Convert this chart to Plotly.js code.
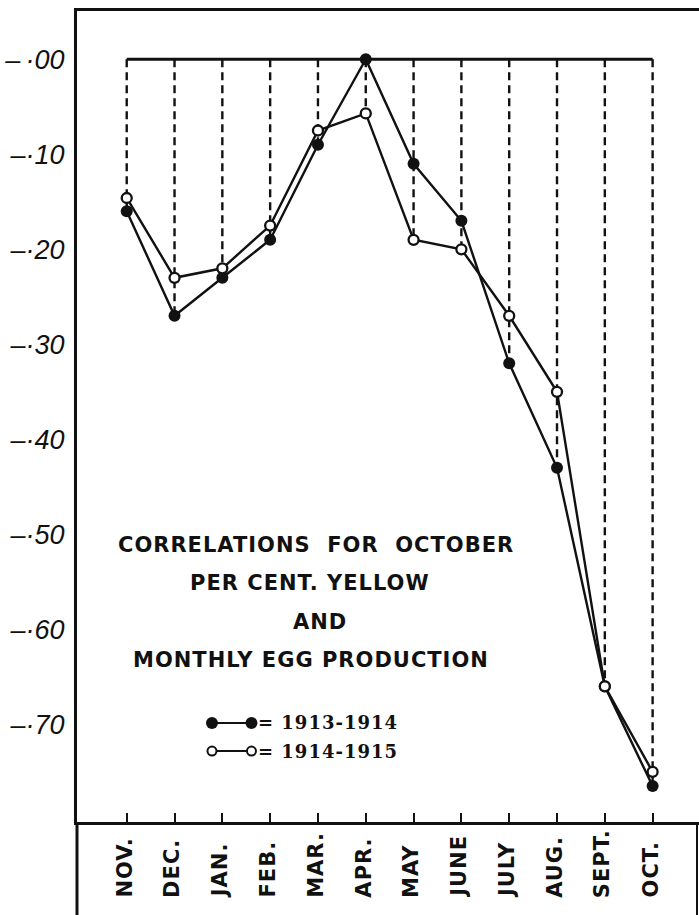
<!DOCTYPE html>
<html>
<head>
<meta charset="utf-8">
<script src="https://cdn.plot.ly/plotly-3.0.1.min.js"></script>
<style>
html,body{margin:0;padding:0;background:#fff;}
#chart{width:699px;height:915px;}
.annotation-text{letter-spacing:1px;}
</style>
</head>
<body>
<div id="chart"></div>
<script>
// ---- data ----
const months = ["NOV.", "DEC.", "JAN.", "FEB.", "MAR.", "APR.", "MAY", "JUNE", "JULY", "AUG.", "SEPT.", "OCT."];
const corr1913_1914 = [-0.16, -0.27, -0.23, -0.19, -0.09, 0.00, -0.11, -0.17, -0.32, -0.43, -0.66, -0.765];
const corr1914_1915 = [-0.146, -0.23, -0.22, -0.175, -0.075, -0.057, -0.19, -0.20, -0.27, -0.35, -0.66, -0.75];
const yTickVals = [0, -0.1, -0.2, -0.3, -0.4, -0.5, -0.6, -0.7];
const yTickText = ["\u2013\u2009\u00B700", "\u2013\u00B710", "\u2013\u00B720", "\u2013\u00B730", "\u2013\u00B740", "\u2013\u00B750", "\u2013\u00B760", "\u2013\u00B770"];
const titleLines = ["CORRELATIONS\u00A0\u00A0FOR\u00A0\u00A0OCTOBER", "PER CENT. YELLOW", "AND", "MONTHLY EGG PRODUCTION"];
const seriesNames = ["1913-1914", "1914-1915"];

const idx = months.map((m, i) => i);

// dashed drop lines from zero to lower point of each month
const dropX = [], dropY = [];
idx.forEach(i => {
  dropX.push(i, i, null);
  dropY.push(0, Math.min(corr1913_1914[i], corr1914_1915[i]), null);
});

const traces = [
  {x: dropX, y: dropY, mode: 'lines', line: {color: '#111', width: 2.4, dash: '8px,5px'}, hoverinfo: 'skip', showlegend: false},
  {x: [idx[0], idx[idx.length - 1]], y: [0, 0], mode: 'lines', line: {color: '#111', width: 3}, hoverinfo: 'skip', showlegend: false},
  {x: idx, y: corr1913_1914, name: seriesNames[0], mode: 'lines+markers', line: {color: '#111', width: 2.4},
   marker: {symbol: 'circle', size: 12, color: '#111'}, showlegend: false},
  {x: idx, y: corr1914_1915, name: seriesNames[1], mode: 'lines+markers', line: {color: '#111', width: 2.4},
   marker: {symbol: 'circle', size: 10, color: '#fff', line: {color: '#111', width: 2.3}}, showlegend: false},
  // legend samples on an invisible overlay axis (paper-like 0..1)
  {x: [0.217, 0.2805], y: [0.1221, 0.1221], xaxis: 'x2', yaxis: 'y2', mode: 'lines+markers',
   line: {color: '#111', width: 2}, marker: {size: 12, color: '#111'}, hoverinfo: 'skip', showlegend: false},
  {x: [0.217, 0.2805], y: [0.0875, 0.0875], xaxis: 'x2', yaxis: 'y2', mode: 'lines+markers',
   line: {color: '#111', width: 2}, marker: {size: 9, color: '#fff', line: {color: '#111', width: 2}}, hoverinfo: 'skip', showlegend: false}
];

const annotations = [];
months.forEach((m, i) => {
  annotations.push({x: i, y: -0.096, xref: 'x', yref: 'paper', text: m, showarrow: false, textangle: -90,
    xanchor: 'center', yanchor: 'bottom', xshift: -2,
    font: {family: 'DejaVu Sans', size: 21, weight: 'bold', color: '#111'}});
});
const titleY = [0.342, 0.295, 0.246, 0.200];
const titleX = [0.384, 0.375, 0.390, 0.376];
titleLines.forEach((t, k) => {
  annotations.push({x: titleX[k], y: titleY[k], xref: 'paper', yref: 'paper', text: t, showarrow: false,
    xanchor: 'center', yanchor: 'middle', font: {family: 'DejaVu Sans', size: 21, weight: 'bold', color: '#111'}});
});
seriesNames.forEach((s, k) => {
  annotations.push({x: 0.287, y: [0.1221, 0.0875][k], xref: 'paper', yref: 'paper', text: '= ' + s, showarrow: false,
    xanchor: 'left', yanchor: 'middle', font: {family: 'DejaVu Serif', size: 18, weight: 'bold', color: '#111'}});
});

const layout = {
  width: 699, height: 915,
  margin: {l: 77, r: 0, t: 11, b: 93, pad: 0},
  paper_bgcolor: '#fff', plot_bgcolor: '#fff',
  showlegend: false,
  xaxis: {range: [-1.04, 11.97], showgrid: false, zeroline: false, showline: true, mirror: true,
    linecolor: '#111', linewidth: 3, ticks: 'inside', ticklen: 9, tickwidth: 2, tickcolor: '#111',
    tickvals: idx, showticklabels: false, fixedrange: true},
  yaxis: {range: [-0.8028, 0.0508], showgrid: false, zeroline: false, showline: true, mirror: false,
    linecolor: '#111', linewidth: 3, ticks: '', tickvals: yTickVals, ticktext: yTickText,
    ticklabelstandoff: 4,
    tickfont: {family: 'Liberation Sans', size: 27, style: 'italic', color: '#111'}, fixedrange: true},
  xaxis2: {overlaying: 'x', anchor: 'y2', range: [0, 1], visible: false, fixedrange: true},
  yaxis2: {overlaying: 'y', anchor: 'x2', range: [0, 1], visible: false, fixedrange: true},
  annotations: annotations,
  shapes: [
    {type: 'line', xref: 'paper', yref: 'paper', x0: 0, x1: 0, y0: 0, y1: -0.12, line: {color: '#111', width: 3}},
    {type: 'line', xref: 'paper', yref: 'paper', x0: 0.9968, x1: 0.9968, y0: 0, y1: -0.12, line: {color: '#111', width: 2}}
  ]
};

Plotly.newPlot('chart', traces, layout, {displayModeBar: false, staticPlot: true});
</script>
</body>
</html>
